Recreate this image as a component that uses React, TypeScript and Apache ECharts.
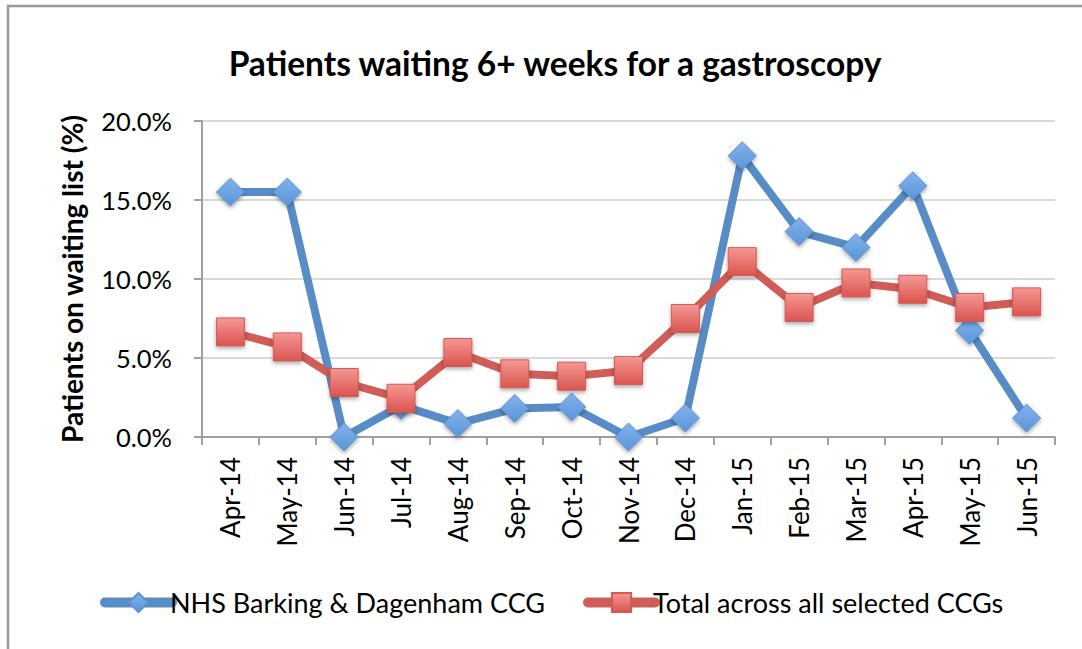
import React, { useEffect, useRef } from "react";
import * as echarts from "echarts";

const categories = [
  "Apr-14", "May-14", "Jun-14", "Jul-14", "Aug-14", "Sep-14", "Oct-14", "Nov-14",
  "Dec-14", "Jan-15", "Feb-15", "Mar-15", "Apr-15", "May-15", "Jun-15",
];
const nhsBarking = [15.5, 15.5, 0.0, 2.0, 0.85, 1.8, 1.9, 0.0, 1.2, 17.8, 13.0, 12.0, 15.9, 6.75, 1.2];
const totalAll = [6.65, 5.7, 3.45, 2.45, 5.35, 4.0, 3.85, 4.2, 7.5, 11.1, 8.2, 9.75, 9.35, 8.2, 8.55];
const yTicks = { min: 0, max: 20, interval: 5 };

const FONT = "Lato, 'Open Sans', sans-serif";

export default function App() {
  const ref = useRef<HTMLDivElement>(null);
  useEffect(() => {
    document.body.style.margin = "0";
    const chart = echarts.init(ref.current!, null, { renderer: "svg" });
    const shadow = { shadowBlur: 4, shadowOffsetY: 2, shadowColor: "rgba(0,0,0,0.35)" };
    chart.setOption({
      animation: false,
      backgroundColor: "#ffffff",
      graphic: [
        {
          type: "rect",
          shape: { x: 8, y: 6, width: 1200, height: 800 },
          style: { fill: "none", stroke: "#999999", lineWidth: 2.5 },
          silent: true,
        },
      ],
      title: {
        text: "Patients waiting 6+ weeks for a gastroscopy",
        left: 550,
        textAlign: "center",
        top: 41,
        textStyle: { fontFamily: FONT, fontWeight: "bold", fontSize: 33.5, color: "#000" },
      },
      legend: {
        left: 95,
        top: 584,
        itemWidth: 67,
        itemHeight: 24,
        itemGap: 38,
        lineStyle: { width: 10, cap: "round" },
        textStyle: { fontFamily: FONT, fontSize: 27, color: "#000", padding: [0, 0, 0, -7] },
        data: ["NHS Barking & Dagenham CCG", "Total across all selected CCGs"],
      },
      grid: { left: 202, right: 27, top: 121, bottom: 212, containLabel: false },
      xAxis: {
        type: "category",
        data: categories,
        boundaryGap: true,
        axisLine: { lineStyle: { color: "#a0a0a0", width: 2 } },
        axisTick: { show: true, length: 8, lineStyle: { color: "#a0a0a0", width: 2 } },
        axisLabel: { rotate: 90, margin: 20, fontFamily: FONT, fontSize: 26, color: "#000", interval: 0 },
      },
      yAxis: {
        type: "value",
        min: yTicks.min,
        max: yTicks.max,
        interval: yTicks.interval,
        name: "Patients on waiting list (%)",
        nameLocation: "middle",
        nameGap: 116,
        nameRotate: 90,
        nameTextStyle: { fontFamily: FONT, fontWeight: "bold", fontSize: 28, color: "#000" },
        axisLine: { show: true, lineStyle: { color: "#a0a0a0", width: 2 } },
        axisTick: { show: true, length: 8, lineStyle: { color: "#a0a0a0", width: 2 } },
        axisLabel: {
          margin: 30,
          fontFamily: FONT,
          fontSize: 25.5,
          color: "#000",
          formatter: (v: number) => v.toFixed(1) + "%",
        },
        splitLine: { show: true, lineStyle: { color: "#d9d9d9", width: 2 } },
      },
      series: [
        {
          name: "NHS Barking & Dagenham CCG",
          type: "line",
          data: nhsBarking,
          symbol: "diamond",
          symbolSize: 28,
          lineStyle: { color: "#588cc6", width: 8 },
          itemStyle: {
            color: new echarts.graphic.LinearGradient(0, 0, 0, 1, [
              { offset: 0, color: "#82b2ec" },
              { offset: 1, color: "#5a95d8" },
            ]),
            borderColor: "#5d92d2",
            borderWidth: 1,
            ...shadow,
          },
          z: 2,
        },
        {
          name: "Total across all selected CCGs",
          type: "line",
          data: totalAll,
          symbol: "rect",
          symbolSize: 28,
          lineStyle: { color: "#cf5d58", width: 8 },
          itemStyle: {
            color: new echarts.graphic.LinearGradient(0, 0, 0, 1, [
              { offset: 0, color: "#f59893" },
              { offset: 1, color: "#d9544f" },
            ]),
            borderColor: "#d45a55",
            borderWidth: 1,
            ...shadow,
          },
          z: 3,
        },
      ],
    });
    return () => chart.dispose();
  }, []);
  return <div ref={ref} style={{ width: 1082, height: 649 }} />;
}
